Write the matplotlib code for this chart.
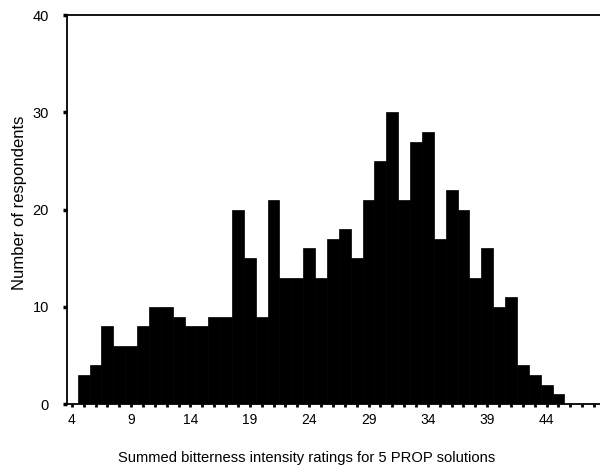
import matplotlib
matplotlib.use("Agg")
import matplotlib.pyplot as plt
import numpy as np

plt.rcParams['font.family'] = ['Liberation Sans', 'DejaVu Sans']

# summed bitterness rating (bin centre) and number of respondents
ratings = np.arange(5, 46)
counts = [3, 4, 8, 6, 6, 8, 10, 10, 9, 8,
          8, 9, 9, 20, 15, 9, 21, 13, 13, 16,
          13, 17, 18, 15, 21, 25, 30, 21, 27, 28,
          17, 22, 20, 13, 16, 10, 11, 4, 3, 2, 1]
xticks = [4, 9, 14, 19, 24, 29, 34, 39, 44]
yticks = [0, 10, 20, 30, 40]

fig = plt.figure(figsize=(6.0, 4.72), dpi=100)
ax = fig.add_axes([0.1117, 0.144, 0.8883, 0.824])

ax.bar(ratings, counts, width=1.0, color='black', edgecolor='black', linewidth=0.5)

ax.set_xlim(3.6, 48.5)
ax.set_ylim(0, 40)
ax.set_xticks(xticks)
ax.set_xticks(np.arange(4, 49), minor=True)
ax.set_yticks(yticks)

ax.spines['right'].set_visible(False)
for s in ['left', 'top', 'bottom']:
    ax.spines[s].set_linewidth(1.3)

ax.tick_params(axis='x', which='both', direction='out', length=2.5, width=2,
               labelsize=10, pad=4)
ax.tick_params(axis='y', direction='out', length=3, width=2.5, labelsize=10.5, pad=10)

ax.set_xlabel('Summed bitterness intensity ratings for 5 PROP solutions', fontsize=10.6)
ax.xaxis.set_label_coords(0.45, -0.12)
ax.set_ylabel('Number of respondents', fontsize=12)
ax.yaxis.set_label_coords(-0.075, 0.517)

fig.savefig('out.png', dpi=100)
